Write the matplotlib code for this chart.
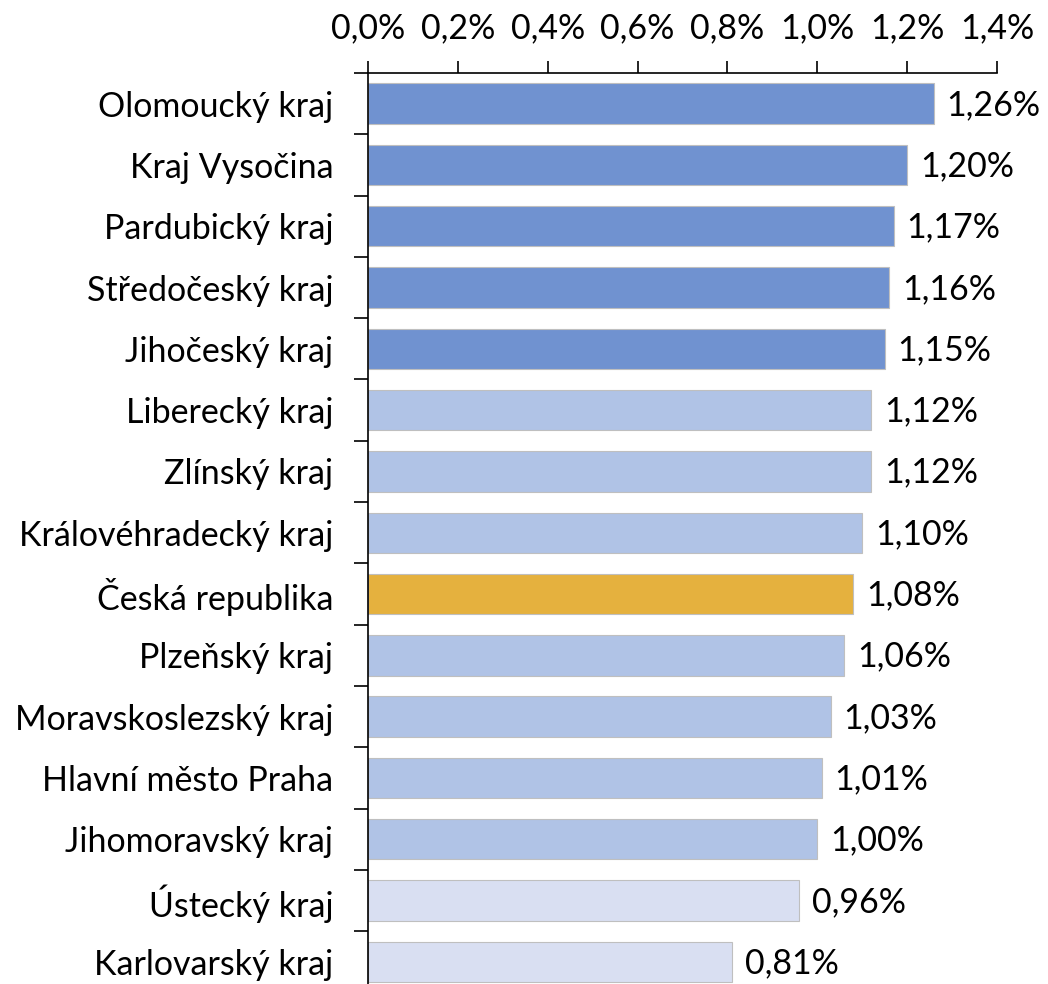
import matplotlib
matplotlib.use("Agg")
import matplotlib.pyplot as plt
import numpy as np

categories = ["Olomoucký kraj", "Kraj Vysočina", "Pardubický kraj", "Středočeský kraj",
              "Jihočeský kraj", "Liberecký kraj", "Zlínský kraj", "Královéhradecký kraj",
              "Česká republika", "Plzeňský kraj", "Moravskoslezský kraj", "Hlavní město Praha",
              "Jihomoravský kraj", "Ústecký kraj", "Karlovarský kraj"]
values = [1.26, 1.20, 1.17, 1.16, 1.15, 1.12, 1.12, 1.10, 1.08, 1.06, 1.03, 1.01, 1.00, 0.96, 0.81]
groups = ["top", "top", "top", "top", "top", "mid", "mid", "mid", "cr", "mid", "mid", "mid", "mid", "low", "low"]
xticks = [0.0, 0.2, 0.4, 0.6, 0.8, 1.0, 1.2, 1.4]

palette = {"top": "#7092D0", "mid": "#B0C3E6", "low": "#D9DFF2", "cr": "#E5B13E"}

plt.rcParams['font.family'] = ['Lato', 'DejaVu Sans']
FS = 24.5

fig = plt.figure(figsize=(10.48, 9.84), dpi=100)
n = len(categories)
band = 61.3
ax = fig.add_axes([368/1048, 1 - 73/984 - n*band/984, (997-368)/1048, n*band/984])

y = np.arange(n)
ax.barh(y, values, height=0.66, color=[palette[g] for g in groups],
        edgecolor="#BFBFBF", linewidth=0.8)
ax.set_ylim(n - 0.5, -0.5)
ax.set_xlim(0, 1.4)

ax.xaxis.tick_top()
ax.set_xticks(xticks)
ax.set_xticklabels([f"{t:.1f}%".replace(".", ",") for t in xticks], fontsize=FS)
ax.tick_params(axis="x", direction="out", length=9, width=1.2, pad=12)

ax.set_yticks(y)
ax.set_yticklabels(categories, fontsize=FS)
ax.tick_params(axis="y", which="major", length=0, pad=25)
ax.set_yticks(np.arange(n + 1) - 0.5, minor=True)
ax.tick_params(axis="y", which="minor", direction="out", length=10, width=1.2)

for s in ["right", "bottom"]:
    ax.spines[s].set_visible(False)
ax.spines["left"].set_linewidth(1.2)
ax.spines["top"].set_linewidth(1.2)

for yi, v in zip(y, values):
    ax.text(v + 0.028, yi + 0.02, f"{v:.2f}%".replace(".", ","), va="center", ha="left", fontsize=FS)

fig.savefig("out.png", dpi=100)
